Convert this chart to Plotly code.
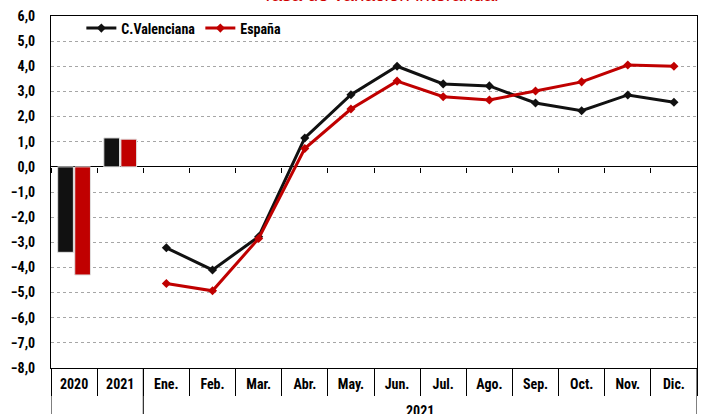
import plotly.graph_objects as go

categories = ["2020", "2021", "Ene.", "Feb.", "Mar.", "Abr.", "May.", "Jun.",
              "Jul.", "Ago.", "Sep.", "Oct.", "Nov.", "Dic."]
years = ["2020", "2021"]
months = ["Ene.", "Feb.", "Mar.", "Abr.", "May.", "Jun.", "Jul.", "Ago.",
          "Sep.", "Oct.", "Nov.", "Dic."]
cv_annual = [-3.4, 1.15]
es_annual = [-4.3, 1.1]
cv_monthly = [-3.22, -4.1, -2.78, 1.15, 2.87, 4.0, 3.3, 3.22, 2.54, 2.23, 2.86, 2.57]
es_monthly = [-4.64, -4.93, -2.85, 0.73, 2.3, 3.41, 2.79, 2.66, 3.02, 3.38, 4.05, 4.0]
group_label = "2021"
title_text = "Tasa de variación interanual"

BLACK = "#111111"
RED = "#C00000"
FONT = "Liberation Sans Narrow, Roboto Condensed, Arial Narrow, Liberation Sans, sans-serif"

fig = go.Figure()
fig.add_trace(go.Bar(x=years, y=cv_annual, marker=dict(color=BLACK, line=dict(color="#e0e0e0", width=1)),
                     showlegend=False, hoverinfo="skip"))
fig.add_trace(go.Bar(x=years, y=es_annual, marker=dict(color=RED, line=dict(color="#e0e0e0", width=1)),
                     showlegend=False, hoverinfo="skip"))
fig.add_trace(go.Scatter(x=months, y=cv_monthly, mode="lines+markers", name="C.Valenciana",
                         line=dict(color=BLACK, width=3), marker=dict(symbol="diamond", size=7, color=BLACK)))
fig.add_trace(go.Scatter(x=months, y=es_monthly, mode="lines+markers", name="España",
                         line=dict(color=RED, width=3), marker=dict(symbol="diamond", size=7, color=RED)))

n = len(categories)
boundaries = [i - 0.5 for i in range(n + 1)]

fig.update_layout(
    width=703, height=414,
    margin=dict(l=51, r=6, t=16, b=46, autoexpand=False),
    paper_bgcolor="white", plot_bgcolor="white",
    separators=",.",
    barmode="group", bargap=0.26, bargroupgap=0.08,
    font=dict(family=FONT, size=14, color="black"),
    legend=dict(orientation="h", x=0.047, y=1.01, xanchor="left", yanchor="top",
                bgcolor="rgba(0,0,0,0)", font=dict(size=14, family=FONT, weight="bold"),
                itemwidth=30, tracegroupgap=0),
    xaxis=dict(type="category", categoryorder="array", categoryarray=categories,
               range=[-0.5, n - 0.5], showgrid=False, showline=True, linecolor="black",
               linewidth=1, mirror=True, ticks="", automargin=False,
               tickfont=dict(size=14, family=FONT, weight="bold"), ticklabelstandoff=3),
    xaxis2=dict(overlaying="x", anchor="free", position=8 / 14, range=[-0.5, n - 0.5],
                tickmode="array", tickvals=boundaries, ticks="outside", ticklen=5,
                tickcolor="black", showticklabels=False, showgrid=False, showline=False,
                zeroline=False, automargin=False),
    xaxis3=dict(overlaying="x", anchor="free", position=0, range=[-0.5, n - 0.5],
                tickmode="array", tickvals=boundaries, ticks="outside", ticklen=27,
                tickcolor="black", showticklabels=False, showgrid=False, showline=False,
                zeroline=False, automargin=False),
    yaxis=dict(range=[-8, 6], dtick=1, tick0=0, tickformat=".1f", showgrid=True,
               gridcolor="#a6a6a6", griddash="dot", gridwidth=1, zeroline=True,
               zerolinecolor="black", zerolinewidth=1, showline=True, linecolor="black",
               mirror=True, ticks="", automargin=False,
               tickfont=dict(size=14, family=FONT, weight="bold"), ticklabelstandoff=12),
)

# invisible traces to anchor the helper axes
fig.add_trace(go.Scatter(x=[0], y=[None], xaxis="x2", showlegend=False, hoverinfo="skip"))
fig.add_trace(go.Scatter(x=[0], y=[None], xaxis="x3", showlegend=False, hoverinfo="skip"))

# long separators of the multi-level axis
for b in [boundaries[0], boundaries[len(years)], boundaries[-1]]:
    fig.add_shape(type="line", xref="x2", yref="paper", x0=b, x1=b, y0=0, y1=-0.2,
                  line=dict(color="black", width=1))

fig.add_annotation(x=(len(years) + n - 1) / 2, xref="x2", y=0, yref="paper", yanchor="top",
                   yshift=-33, text=group_label, showarrow=False,
                   font=dict(size=14, family=FONT, weight="bold"))

fig.add_annotation(x=0.5, xref="paper", y=1, yref="paper", yanchor="bottom", xanchor="center",
                   xshift=380 - (51 + 646 / 2), yshift=9, text=title_text, showarrow=False,
                   font=dict(size=19, color="#D00000", family="Liberation Sans, sans-serif"))

fig.write_html("out.html", config={"displayModeBar": False},
               post_script="document.body.style.margin='0';document.body.style.padding='0';")
